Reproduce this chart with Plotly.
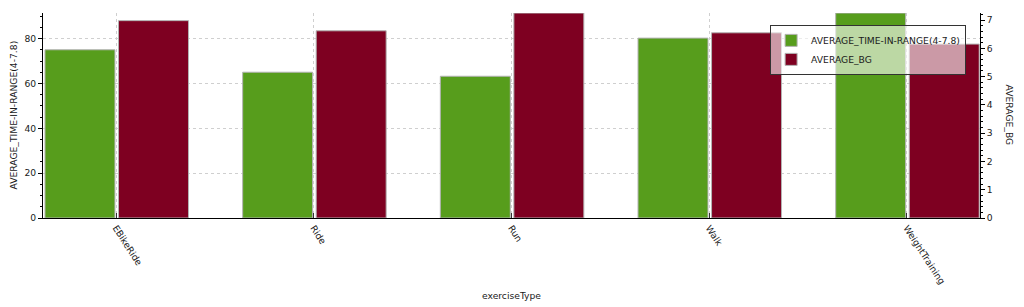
import plotly.graph_objects as go

categories = ["EBikeRide", "Ride", "Run", "Walk", "WeightTraining"]
time_in_range = [75.0, 65.0, 63.2, 80.2, 91.4]
average_bg = [6.98, 6.62, 7.25, 6.55, 6.15]

series_names = ["AVERAGE_TIME-IN-RANGE(4-7.8)", "AVERAGE_BG"]
x_title = "exerciseType"
y_title = "AVERAGE_TIME-IN-RANGE(4-7.8)"
y2_title = "AVERAGE_BG"

GREEN = "#579d1c"
MAROON = "#7e0021"
GRID = "#cfcfcf"
FONT = "DejaVu Sans"
FS = 9.2

fig = go.Figure()
fig.add_trace(go.Bar(
    x=categories, y=time_in_range, name=series_names[0],
    marker=dict(color=GREEN, line=dict(color="#b3b3b3", width=1)),
    width=0.354, offset=-0.36, yaxis="y",
))
fig.add_trace(go.Bar(
    x=categories, y=average_bg, name=series_names[1],
    marker=dict(color=MAROON, line=dict(color="#b3b3b3", width=1)),
    width=0.354, offset=0.012, yaxis="y2",
))

fig.update_layout(
    width=1024, height=307,
    margin=dict(l=43, r=44, t=13, b=89),
    paper_bgcolor="white", plot_bgcolor="white",
    barmode="overlay",
    font=dict(family=FONT, size=FS, color="#1a1a1a"),
    xaxis=dict(
        type="category", categoryorder="array", categoryarray=categories,
        range=[-0.37, 4.37],
        showline=True, linecolor="black", linewidth=1,
        showgrid=True, gridcolor=GRID, griddash="dot", gridwidth=1,
        ticks="inside", ticklen=5, tickcolor="#333",
        tickangle=57, tickfont=dict(family=FONT, size=FS, color="#1a1a1a"),
        automargin=False,
    ),
    yaxis=dict(
        range=[0, max(time_in_range)], dtick=20,
        showline=True, linecolor="black", linewidth=1,
        showgrid=True, gridcolor=GRID, griddash="dot", gridwidth=1,
        zeroline=False,
        ticks="outside", ticklen=4, tickcolor="black",
        minor=dict(dtick=5, ticks="outside", ticklen=2, tickcolor="black", showgrid=False),
        tickfont=dict(family=FONT, size=FS, color="#1a1a1a"),
        automargin=False,
    ),
    yaxis2=dict(
        overlaying="y", side="right",
        range=[0, max(average_bg)], dtick=1,
        showline=True, linecolor="black", linewidth=1,
        showgrid=False, zeroline=False,
        ticks="outside", ticklen=4, tickcolor="black",
        minor=dict(dtick=0.2, ticks="outside", ticklen=2, tickcolor="black", showgrid=False),
        tickfont=dict(family=FONT, size=FS, color="#1a1a1a"),
        automargin=False,
    ),
    legend=dict(
        x=0.776, y=0.942, xanchor="left", yanchor="top",
        bgcolor="rgba(255,255,255,0.6)", bordercolor="#333", borderwidth=1,
        font=dict(family=FONT, size=FS, color="#1a1a1a"),
    ),
    showlegend=True,
    annotations=[
        dict(text=x_title, xref="paper", yref="paper", x=0.5, y=-0.376,
             xanchor="center", yanchor="middle", showarrow=False,
             font=dict(family=FONT, size=FS, color="#1a1a1a")),
        dict(text=y_title, xref="paper", yref="paper", x=-0.032, y=0.5,
             xanchor="center", yanchor="middle", textangle=-90, showarrow=False,
             font=dict(family=FONT, size=FS, color="#1a1a1a")),
        dict(text=y2_title, xref="paper", yref="paper", x=1.032, y=0.5,
             xanchor="center", yanchor="middle", textangle=90, showarrow=False,
             font=dict(family=FONT, size=FS, color="#1a1a1a")),
    ],
)

fig.write_html("out.html")
